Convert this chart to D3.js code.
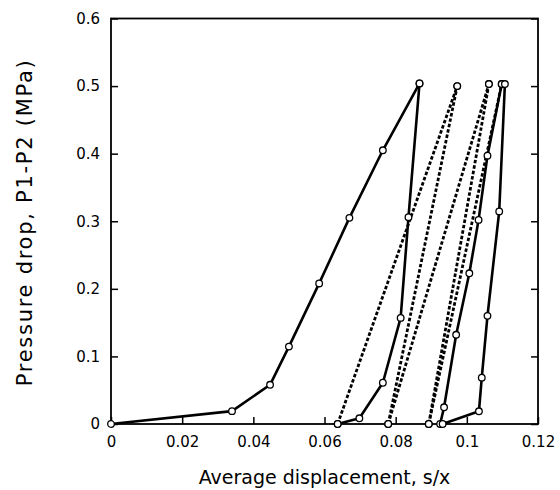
<!DOCTYPE html>
<html>
<head>
<meta charset="utf-8">
<script src="https://d3js.org/d3.v7.min.js"></script>
<style>
body { margin: 0; background: #fff; }
svg { display: block; }
.tick text { font-family: "DejaVu Sans", sans-serif; font-size: 15px; fill: #000; }
.tick line { stroke: #000; stroke-width: 1.5px; }
.frame { fill: none; stroke: #000; stroke-width: 1.8px; }
.solid { fill: none; stroke: #000; stroke-width: 2.6px; stroke-linejoin: round; }
.dotted { fill: none; stroke: #000; stroke-width: 2.8px; stroke-dasharray: 3.5 2; }
.pt { fill: #fff; stroke: #000; stroke-width: 1.3px; }
.label { font-family: "DejaVu Sans", sans-serif; fill: #000; }
</style>
</head>
<body>
<svg width="560" height="490"></svg>
<script>

// tick values
var xTicks = [0, 0.02, 0.04, 0.06, 0.08, 0.1, 0.12];
var yTicks = [0, 0.1, 0.2, 0.3, 0.4, 0.5, 0.6];

// series, [s/x, pressure drop MPa]
var load1 = [[0, 0], [0.034, 0.019], [0.0447, 0.058], [0.050, 0.1145], [0.0585, 0.208],
             [0.067, 0.305], [0.0764, 0.405], [0.0867, 0.504]];
var unload1 = [[0.0867, 0.504], [0.0836, 0.306], [0.0814, 0.157], [0.0764, 0.061],
               [0.0698, 0.0084], [0.0637, 0]];
var reload2 = [[0.0637, 0], [0.0973, 0.500]];
var unload2 = [[0.0973, 0.500], [0.0779, 0]];
var reload3 = [[0.0779, 0], [0.1062, 0.503]];
var unload3 = [[0.1062, 0.503], [0.0893, 0]];
var reload4 = [[0.0893, 0], [0.1098, 0.503]];
var unload4 = [[0.1098, 0.503], [0.1058, 0.397], [0.1033, 0.302], [0.1007, 0.223],
               [0.0970, 0.132], [0.0936, 0.0247], [0.0925, 0]];
var load5 = [[0.0932, 0], [0.1034, 0.0188], [0.1042, 0.0686], [0.1058, 0.160],
             [0.1091, 0.3145], [0.1107, 0.503]];

var series = [
  {pts: load1, cls: "solid"},
  {pts: unload1, cls: "solid"},
  {pts: reload2, cls: "dotted"},
  {pts: unload2, cls: "dotted"},
  {pts: reload3, cls: "dotted"},
  {pts: unload3, cls: "dotted"},
  {pts: reload4, cls: "dotted"},
  {pts: unload4, cls: "solid"},
  {pts: load5, cls: "solid"}
];

var svg = d3.select("svg"),
    margin = {top: 18.5, right: 22, bottom: 66, left: 111},
    width = +svg.attr("width") - margin.left - margin.right,
    height = +svg.attr("height") - margin.top - margin.bottom,
    g = svg.append("g").attr("transform", "translate(" + margin.left + "," + margin.top + ")");

var x = d3.scaleLinear().domain([0, 0.12]).range([0, width]);
var y = d3.scaleLinear().domain([0, 0.6]).range([height, 0]);

var fmt = function(d) { return d3.format("~g")(d); };

g.append("g")
    .attr("transform", "translate(0," + height + ")")
    .call(d3.axisBottom(x).tickValues(xTicks).tickFormat(fmt).tickSizeInner(-7).tickSizeOuter(0).tickPadding(12))
    .call(function(a) { a.select(".domain").remove(); });

g.append("g")
    .call(d3.axisLeft(y).tickValues(yTicks).tickFormat(fmt).tickSizeInner(-7).tickSizeOuter(0).tickPadding(11))
    .call(function(a) { a.select(".domain").remove(); });

g.append("g")
    .attr("transform", "translate(" + width + ",0)")
    .call(d3.axisRight(y).tickValues(yTicks).tickFormat("").tickSizeInner(-7).tickSizeOuter(0))
    .call(function(a) { a.select(".domain").remove(); });

g.append("rect")
    .attr("class", "frame")
    .attr("width", width)
    .attr("height", height);

var line = d3.line()
    .x(function(d) { return x(d[0]); })
    .y(function(d) { return y(d[1]); });

g.selectAll("path.series")
    .data(series)
  .enter().append("path")
    .attr("class", function(d) { return "series " + d.cls; })
    .attr("d", function(d) { return line(d.pts); });

var allPts = [];
series.forEach(function(s) { s.pts.forEach(function(p) { allPts.push(p); }); });

g.selectAll("circle.pt")
    .data(allPts)
  .enter().append("circle")
    .attr("class", "pt")
    .attr("cx", function(d) { return x(d[0]); })
    .attr("cy", function(d) { return y(d[1]); })
    .attr("r", 3.3);

svg.append("text")
    .attr("class", "label")
    .attr("x", margin.left + width / 2)
    .attr("y", 484)
    .attr("text-anchor", "middle")
    .style("font-size", "19px")
    .text("Average displacement, s/x");

svg.append("text")
    .attr("class", "label")
    .attr("transform", "translate(32," + (margin.top + height / 2 + 2) + ") rotate(-90)")
    .attr("text-anchor", "middle")
    .attr("textLength", 326)
    .attr("lengthAdjust", "spacing")
    .style("font-size", "21px")
    .text("Pressure drop, P1-P2 (MPa)");

</script>
</body>
</html>
